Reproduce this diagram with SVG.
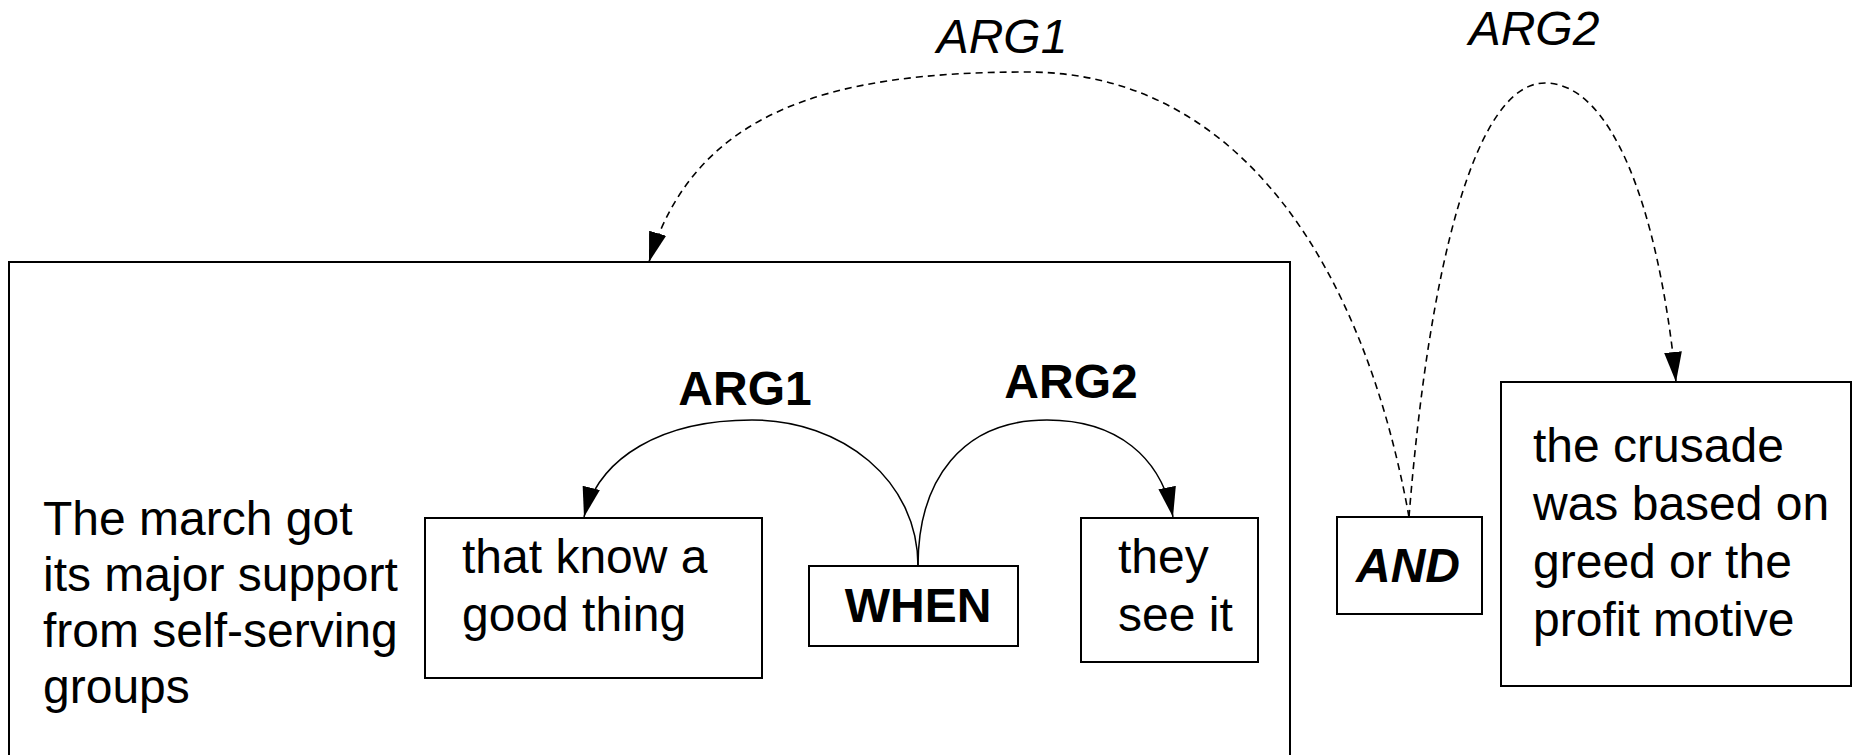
<svg xmlns="http://www.w3.org/2000/svg" width="1853" height="755" viewBox="0 0 1853 755">
<defs>
<marker id="ah" markerUnits="userSpaceOnUse" markerWidth="30" markerHeight="20" viewBox="0 0 27 16" refX="27" refY="8" orient="auto">
<path d="M0,0 L27,8 L0,16 Z" fill="#000"/>
</marker>
</defs>
<style>
.box{fill:#fff;stroke:#000;stroke-width:2}
.t{font-family:"Liberation Sans",Arial,sans-serif;font-size:48px;fill:#000}
.b{font-weight:bold}
.i{font-style:italic}
.solid{fill:none;stroke:#000;stroke-width:1.5}
.dash{fill:none;stroke:#000;stroke-width:1.6;stroke-dasharray:7 5}
</style>
<rect width="1853" height="755" fill="#fff"/>
<g id="outer">
<rect class="box" x="9" y="262" width="1281" height="600"/>
<text class="t" x="43" y="535">The march got</text>
<text class="t" x="43" y="591">its major support</text>
<text class="t" x="43" y="647">from self-serving</text>
<text class="t" x="43" y="703">groups</text>
</g>
<g id="n-know">
<rect class="box" x="425" y="518" width="337" height="160"/>
<text class="t" x="462" y="573">that know a</text>
<text class="t" x="462" y="631">good thing</text>
</g>
<g id="n-when">
<rect class="box" x="809" y="566" width="209" height="80"/>
<text class="t b" x="918" y="622" text-anchor="middle">WHEN</text>
</g>
<g id="n-they">
<rect class="box" x="1081" y="518" width="177" height="144"/>
<text class="t" x="1118" y="573">they</text>
<text class="t" x="1118" y="631">see it</text>
</g>
<g id="n-and">
<rect class="box" x="1337" y="517" width="145" height="97"/>
<text class="t b i" x="1408" y="582" text-anchor="middle">AND</text>
</g>
<g id="n-crusade">
<rect class="box" x="1501" y="382" width="350" height="304"/>
<text class="t" x="1533" y="462">the crusade</text>
<text class="t" x="1533" y="520">was based on</text>
<text class="t" x="1533" y="578">greed or the</text>
<text class="t" x="1533" y="636">profit motive</text>
</g>
<g id="connectors">
<path class="solid" d="M918,566 C918,480 842,420 752,420 C662,420 599,457 584,517" marker-end="url(#ah)"/>
<path class="solid" d="M918,566 C918,480 962,420 1047,420 C1117,420 1161,457 1173,517" marker-end="url(#ah)"/>
<path class="dash" d="M1409,517 C1364,267 1240,72 1027,72 C827,72 694,112 649,262" marker-end="url(#ah)"/>
<path class="dash" d="M1409,517 C1429,267 1475,83 1545,83 C1610,83 1658,202 1676,382" marker-end="url(#ah)"/>
<text class="t b" x="745" y="405" text-anchor="middle">ARG1</text>
<text class="t b" x="1071" y="398" text-anchor="middle">ARG2</text>
<text class="t i" x="1002" y="53" text-anchor="middle">ARG1</text>
<text class="t i" x="1534" y="45" text-anchor="middle">ARG2</text>
</g>
</svg>
